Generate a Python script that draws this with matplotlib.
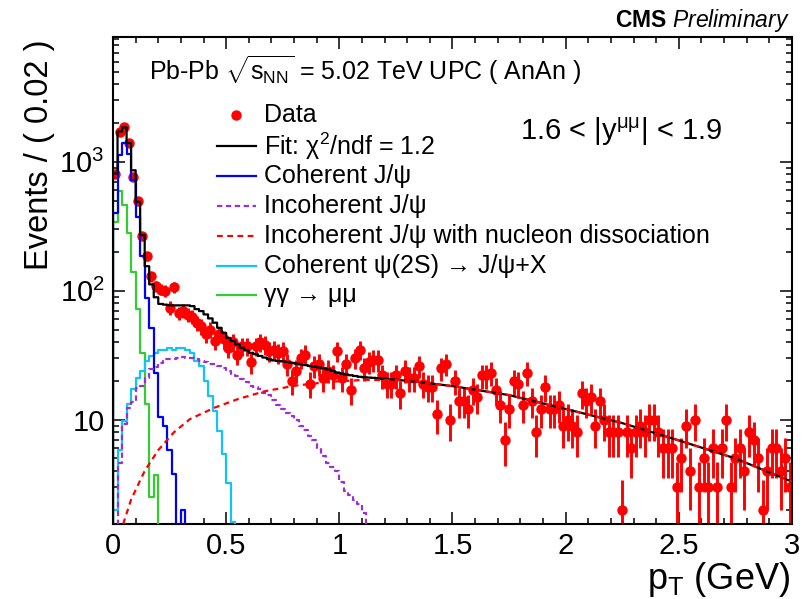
import numpy as np
import matplotlib
matplotlib.use("Agg")
import matplotlib.pyplot as plt
from matplotlib.ticker import MultipleLocator, LogLocator, FuncFormatter, NullFormatter
from matplotlib.lines import Line2D

plt.rcParams['font.family'] = ['Liberation Sans', 'DejaVu Sans']
plt.rcParams['mathtext.fontset'] = 'custom'
plt.rcParams['mathtext.rm'] = 'Liberation Sans'
plt.rcParams['mathtext.it'] = 'Liberation Sans:italic'
plt.rcParams['mathtext.bf'] = 'Liberation Sans:bold'

# ---------------- data ----------------
bin_width = 0.02
data_counts = [
    810, 1700, 1850, 1400, 765, 500, 264, 185, 129, 108,
    102, 100, 74, 106, 67, 70, 65, 63, 56, 53,
    46, 50, 41, 46, 42, 36, 40, 32, 37, 37,
    28, 37, 40, 38, 34, 35, 33, 34, 27, 20,
    24, 30, 32, 19, 26, 27, 21, 24, 22, 34,
    21, 27, 17, 30, 35, 25, 28, 29, 29, 22,
    19, 19, 22, 16, 24, 21, 21, 26, 19, 18,
    18, 11, 25, 27, 10, 20, 14, 14, 12, 17,
    15, 22, 22, 23, 17, 13, 7, 12, 20, 19,
    13, 23, 14, 8, 12, 18, 12, 12, 13, 9,
    10, 9, 8, 16, 14, 15, 9, 14, 10, 8,
    8, 8, 2, 8, 6, 8, 9, 8, 10, 10,
    8, 6, 6, 6, 3, 5, 9, 4, 10, 3,
    5, 3, 6, 3, 6, 10, 3, 5, 6, 4,
    8, 7, 5, 2, 4, 6, 6, 4, 5, 3,
]

# total fit: binned part (0 - 1.2 GeV) and smooth tail
fit_binned = [
    813, 1720, 1850, 1400, 860, 490, 270, 155, 112, 89,
    79, 78, 77, 77, 77, 77, 77, 76, 72, 69.5,
    65.5, 61, 56.5, 51.6, 47, 43, 40.7, 38.4, 36.1, 34.5,
    33, 32.2, 31.2, 30.3, 29.4, 28.8, 28.5, 28.3, 28, 27.6,
    27.2, 26.8, 26.5, 26.1, 25.8, 25.4, 25, 24.5, 23.9, 23.2,
    22.8, 22.4, 22.1, 21.8, 21.5, 21.3, 21.2, 21.1, 21.0, 20.8,
]
fit_tail_pt = [1.2, 1.35, 1.5, 1.75, 2.0, 2.25, 2.5, 2.75, 3.0]
fit_tail_val = [20.8, 19.6, 18.2, 15.5, 12.1, 9.4, 6.9, 5.0, 3.3]

coh_jpsi = [400, 1120, 1400, 1150, 720, 370, 185, 88, 51.6, 23.2,
            10.4, 9.0, 5.8, 3.8, 1.0, 2.0, 0]
incoh_jpsi = [0.8, 4.6, 9.3, 12.4, 13.6, 17.7, 18.3, 21.2, 24.6, 25.6,
              27.7, 29.4, 29.4, 29.8, 30.3, 30.7, 30.3, 30.3, 29.4, 28.5,
              28.0, 27.2, 26.8, 26.0, 25.0, 23.9, 22.5, 21.9, 20.6, 19.5,
              18.3, 17.8, 17.2, 16.2, 15.5, 14.2, 13.0, 12.2, 11.2, 10.6,
              10.0, 9.0, 8.3, 7.5, 6.9, 6.0, 5.2, 4.6, 4.3, 4.0,
              3.3, 2.8, 2.6, 2.4, 2.2, 1.9, 1.2, 0]
coh_psi2s = [2.0, 5.8, 9.8, 13.2, 17.3, 21.2, 24.0, 28.5, 31.0, 33.0,
             34.5, 35.0, 35.7, 35.0, 35.7, 35.7, 35.0, 33.0, 28.5, 26.0,
             20.0, 15.3, 11.7, 8.2, 5.4, 3.2, 1.6, 0]
gamgam = [340, 590, 460, 280, 140, 72, 32.6, 13.2, 2.5, 3.7, 0]

diss_pt = [0.045, 0.08, 0.14, 0.20, 0.27, 0.34, 0.45, 0.55, 0.67, 0.80,
           0.95, 1.10, 1.25, 1.35, 1.50, 1.75, 2.00, 2.25, 2.50, 2.75, 3.00]
diss_val = [1.55, 2.4, 4.0, 5.8, 8.0, 10.1, 12.4, 14.4, 16.6, 18.3,
            19.6, 20.3, 20.3, 19.6, 18.2, 15.5, 12.1, 9.4, 6.9, 5.0, 3.3]

x_ticklabels = ["0", "0.5", "1", "1.5", "2", "2.5", "3"]

# ---------------- figure ----------------
W, H = 812, 599
fig = plt.figure(figsize=(W / 100, H / 100), dpi=100)
ax = fig.add_axes([113 / W, 1 - 524 / H, (792 - 113) / W, (524 - 37) / H])
ax.set_yscale('log')
ax.set_xlim(0, 3)
ax.set_ylim(1.55, 9300)

FLOOR = 1e-3


def step_xy(values):
    v = np.asarray(values, dtype=float)
    v = np.where(v > 0, v, FLOOR)
    e = np.arange(len(v) + 1) * bin_width
    xs = np.repeat(e, 2)
    ys = np.concatenate([[FLOOR], np.repeat(v, 2), [FLOOR]])
    return xs, ys


counts = np.asarray(data_counts, dtype=float)
centers = (np.arange(len(counts)) + 0.5) * bin_width
ax.errorbar(centers, counts, yerr=np.sqrt(counts), fmt='o', color='#ff0000',
            ms=6.5, elinewidth=2.1, capsize=0, zorder=2)

c_blue = '#0000ff'
c_violet = '#9b30d0'
c_red = '#ff0000'
c_cyan = '#11c4f5'
c_green = '#33cc33'

lw = 1.6
xs, ys = step_xy(gamgam)
ax.plot(xs, ys, color=c_green, lw=lw, zorder=3)
xs, ys = step_xy(coh_psi2s)
ax.plot(xs, ys, color=c_cyan, lw=lw, zorder=3)
xs, ys = step_xy(coh_jpsi)
ax.plot(xs, ys, color=c_blue, lw=lw, zorder=4)
xs, ys = step_xy(incoh_jpsi)
ax.plot(xs, ys, color=c_violet, lw=lw, ls=(0, (2.4, 1.6)), zorder=4)

xs, ys = step_xy(fit_binned)
xs = np.concatenate([xs[:-1], fit_tail_pt[1:]])
ys = np.concatenate([ys[:-1], fit_tail_val[1:]])
ax.plot(xs, ys, color='black', lw=lw, zorder=5)

ax.plot(diss_pt, diss_val, color=c_red, lw=lw, ls=(0, (2.6, 2.0)), zorder=6)

# ---------------- axes styling ----------------
for s in ax.spines.values():
    s.set_linewidth(1.5)
ax.set_xticks(np.arange(len(x_ticklabels)) * 0.5)
ax.set_xticklabels(x_ticklabels)
ax.xaxis.set_minor_locator(MultipleLocator(0.1))
ax.yaxis.set_major_locator(LogLocator(base=10, numticks=10))
ax.yaxis.set_minor_locator(LogLocator(base=10, subs=np.arange(2, 10), numticks=20))
ax.yaxis.set_minor_formatter(NullFormatter())


def yfmt(v, _):
    e = int(round(np.log10(v)))
    if e == 1:
        return "10"
    return r"$\mathregular{10^{%d}}$" % e


ax.yaxis.set_major_formatter(FuncFormatter(yfmt))
ax.tick_params(which='both', direction='in', top=True, right=True, width=1.1)
ax.tick_params(which='major', length=8.8, labelsize=21)
ax.tick_params(which='minor', length=4.6)
ax.tick_params(axis='x', which='major', pad=6)
ax.tick_params(axis='y', which='major', pad=6)

# ---------------- texts ----------------
fig.text(790 / W, 1 - 27 / H, r"$\mathbf{CMS}\ \mathit{Preliminary}$",
         ha='right', va='baseline', fontsize=16.5)
fig.text(149 / W, 1 - 80 / H,
         r"Pb-Pb $\sqrt{\mathrm{s}_{\mathrm{NN}}}$ = 5.02 TeV UPC ( AnAn )",
         ha='left', va='baseline', fontsize=18)
fig.text(520 / W, 1 - 140 / H, r"1.6 < |y$^{\mathrm{μμ}}$| < 1.9",
         ha='left', va='baseline', fontsize=21)
fig.text(40 / W, 1 - 39 / H, "Events / ( 0.02 )", rotation=90,
         ha='center', va='top', fontsize=23.5)
fig.text(790 / W, 1 - 589 / H, r"p$_{\mathrm{T}}$ (GeV)", ha='right',
         va='baseline', fontsize=26)

# ---------------- legend (drawn manually) ----------------
rows = [115, 146, 176, 206, 236, 266, 295]
labels = ["Data", r"Fit: χ$^{2}$/ndf = 1.2", "Coherent J/ψ", "Incoherent J/ψ",
          "Incoherent J/ψ with nucleon dissociation",
          "Coherent ψ(2S) → J/ψ+X", "γγ → μμ"]
styles = [None, ('black', '-'), (c_blue, '-'), (c_violet, (0, (2.4, 1.6))),
          (c_red, (0, (2.6, 2.0))), (c_cyan, '-'), (c_green, '-')]
for yrow, lab, st in zip(rows, labels, styles):
    yf = 1 - yrow / H
    if st is None:
        fig.add_artist(Line2D([236 / W], [yf], marker='o', color=c_red, ms=6.5,
                              ls='none', transform=fig.transFigure))
    else:
        fig.add_artist(Line2D([217 / W, 256 / W], [yf, yf], color=st[0], ls=st[1],
                              lw=lw, transform=fig.transFigure))
    fig.text(264 / W, yf, lab, ha='left', va='center', fontsize=18)

fig.savefig("out.png", dpi=100)
